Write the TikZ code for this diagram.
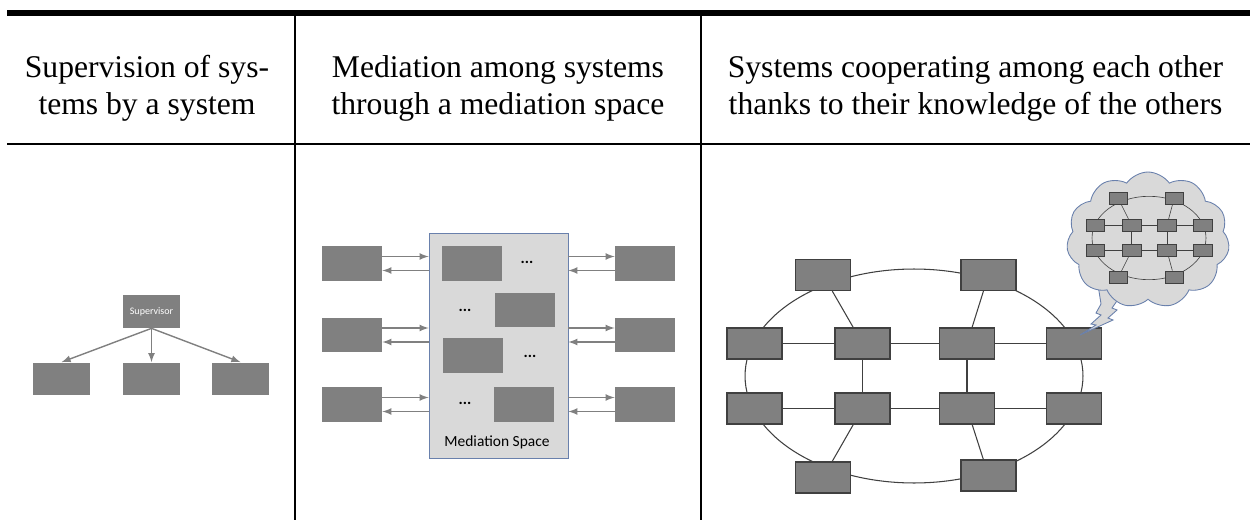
\documentclass[tikz,border=0pt]{standalone}
\usepackage{fontspec}
\setmainfont{Liberation Serif}
\newfontfamily\calibri{Carlito}
\usetikzlibrary{positioning,arrows,shapes}

\definecolor{boxgray}{RGB}{128,128,128}
\definecolor{spacegray}{RGB}{217,217,217}
\definecolor{edgeblue}{RGB}{105,128,172}
\definecolor{linegray}{RGB}{64,64,64}

\begin{document}
\begin{tikzpicture} [x=0.02cm, y=-0.02cm,
    header/.style={align=center, font=\fontsize{18}{21}\selectfont},
    sysbox/.style={fill=boxgray, minimum width=1.14cm, minimum height=0.66cm, inner sep=0pt},
    medbox/.style={fill=boxgray, minimum width=1.2cm, minimum height=0.7cm, inner sep=0pt},
    netbox/.style={draw=linegray, line width=0.7pt, fill=boxgray, minimum width=1.1cm, minimum height=0.62cm, inner sep=0pt},
    minibox/.style={draw=linegray, line width=0.4pt, fill=boxgray, minimum width=0.37cm, minimum height=0.24cm, inner sep=0pt},
    flow/.style={->, >=latex, draw=boxgray, line width=0.8pt},
    link/.style={draw=linegray, line width=0.6pt},
    minilink/.style={draw=linegray, line width=0.35pt},
    dots/.style={font=\calibri\bfseries\fontsize{9}{10}\selectfont}]
    \useasboundingbox (0,0) rectangle (1250,520);

    % table rules
    \draw[line width=3.4pt] (7,13) -- (1250,13);
    \draw[line width=1.5pt] (7,144) -- (1250,144);
    \draw[line width=1.3pt] (295,16) -- (295,520);
    \draw[line width=1.3pt] (701,16) -- (701,520);

    \node[header] (headsup) at (147,88) {Supervision of sys-\\tems by a system};
    \node[header] (headmed) at (498,88) {Mediation among systems\\through a mediation space};
    \node[header] (headcoop) at (975.5,88) {Systems cooperating among each other\\thanks to their knowledge of the others};

    % supervision
    \node[sysbox,text=white,font=\calibri\fontsize{5.7}{6}\selectfont] (sup) at (151.5,311.5) {Supervisor};
    \node[sysbox] (sysa) at (61.5,379) {};
    \node[sysbox] (sysb) at (151.5,379) {};
    \node[sysbox] (sysc) at (240.5,379) {};

    \path (sup.south) edge [flow] (sysa.north);
    \path (sup.south) edge [flow] (sysb.north);
    \path (sup.south) edge [flow] (sysc.north);

    % mediation
    \node[draw=edgeblue,fill=spacegray,minimum width=2.78cm,minimum height=4.5cm,inner sep=0pt] (space) at (498.5,345.5) {};
    \node[font=\calibri\fontsize{8.8}{10}\selectfont] (spacelabel) at (497,442) {Mediation Space};
    \node[medbox] (ina) at (471.5,263.5) {};
    \node[medbox] (inb) at (525,310) {};
    \node[medbox] (inc) at (473,355.5) {};
    \node[medbox] (ind) at (524,404.5) {};
    \node[dots] (dota) at (527,262) {...};
    \node[dots] (dotb) at (465,310) {...};
    \node[dots] (dotc) at (530,356) {...};
    \node[dots] (dotd) at (465,403) {...};

    \node[medbox] (lefta) at (352,263.5) {};
    \node[medbox] (leftb) at (352,335) {};
    \node[medbox] (leftc) at (352,404.5) {};
    \node[medbox] (righta) at (645,263.5) {};
    \node[medbox] (rightb) at (645,335) {};
    \node[medbox] (rightc) at (645,404.5) {};

    \path ([yshift=0.14cm]lefta.east) edge [flow] ([yshift=0.14cm]lefta.east -| space.west);
    \path ([yshift=-0.14cm]lefta.east -| space.west) edge [flow] ([yshift=-0.14cm]lefta.east);
    \path ([yshift=0.14cm]leftb.east) edge [flow] ([yshift=0.14cm]leftb.east -| space.west);
    \path ([yshift=-0.14cm]leftb.east -| space.west) edge [flow] ([yshift=-0.14cm]leftb.east);
    \path ([yshift=0.14cm]leftc.east) edge [flow] ([yshift=0.14cm]leftc.east -| space.west);
    \path ([yshift=-0.14cm]leftc.east -| space.west) edge [flow] ([yshift=-0.14cm]leftc.east);
    \path ([yshift=0.14cm]righta.west -| space.east) edge [flow] ([yshift=0.14cm]righta.west);
    \path ([yshift=-0.14cm]righta.west) edge [flow] ([yshift=-0.14cm]righta.west -| space.east);
    \path ([yshift=0.14cm]rightb.west -| space.east) edge [flow] ([yshift=0.14cm]rightb.west);
    \path ([yshift=-0.14cm]rightb.west) edge [flow] ([yshift=-0.14cm]rightb.west -| space.east);
    \path ([yshift=0.14cm]rightc.west -| space.east) edge [flow] ([yshift=0.14cm]rightc.west);
    \path ([yshift=-0.14cm]rightc.west) edge [flow] ([yshift=-0.14cm]rightc.west -| space.east);

    % cooperation
    \draw[link] (914,376) ellipse [x radius=3.38cm, y radius=2.14cm];
    \node[netbox] (ta) at (823,275) {};
    \node[netbox] (tb) at (988.5,275) {};
    \node[netbox] (ua) at (754.5,343.5) {};
    \node[netbox] (ub) at (862.5,343.5) {};
    \node[netbox] (uc) at (967,343.5) {};
    \node[netbox] (ud) at (1074,343.5) {};
    \node[netbox] (la) at (754.5,408.5) {};
    \node[netbox] (lb) at (862.5,408.5) {};
    \node[netbox] (lc) at (967,408.5) {};
    \node[netbox] (ld) at (1074,408.5) {};
    \node[netbox] (ba) at (823,477.5) {};
    \node[netbox] (bb) at (988.5,475.5) {};

    \path (ta) edge [link] (ub);
    \path (tb) edge [link] (uc);
    \path (ua) edge [link] (ub);
    \path (ub) edge [link] (uc);
    \path (uc) edge [link] (ud);
    \path (la) edge [link] (lb);
    \path (lb) edge [link] (lc);
    \path (lc) edge [link] (ld);
    \path (ub) edge [link] (lb);
    \path (uc) edge [link] (lc);
    \path (lb) edge [link] (ba);
    \path (lc) edge [link] (bb);

    % thought cloud
    \draw[edgeblue,fill=spacegray,line width=0.5pt] (1098,285) -- (1101,304) -- (1096,313) -- (1101,315) -- (1091,324) -- (1096,325) -- (1080,335) -- (1113,320) -- (1108,318) -- (1117,310) -- (1112,308) -- (1128,285) -- cycle;
    \node[cloud,cloud puffs=11,cloud puff arc=110,aspect=1.2,draw=edgeblue,fill=spacegray,line width=0.5pt,minimum width=3.26cm,minimum height=2.72cm,inner sep=0pt] (thought) at (1148,240) {};

    \draw[minilink] (1149,238) ellipse [x radius=1.14cm, y radius=0.834cm];
    \node[minibox] (mta) at (1118.3,198.6) {};
    \node[minibox] (mtb) at (1174.1,198.6) {};
    \node[minibox] (mua) at (1095.2,225.3) {};
    \node[minibox] (mub) at (1131.6,225.3) {};
    \node[minibox] (muc) at (1166.9,225.3) {};
    \node[minibox] (mud) at (1202.9,225.3) {};
    \node[minibox] (mla) at (1095.2,250.7) {};
    \node[minibox] (mlb) at (1131.6,250.7) {};
    \node[minibox] (mlc) at (1166.9,250.7) {};
    \node[minibox] (mld) at (1202.9,250.7) {};
    \node[minibox] (mba) at (1118.3,277.4) {};
    \node[minibox] (mbb) at (1174.1,277) {};

    \path (mta) edge [minilink] (mub);
    \path (mtb) edge [minilink] (muc);
    \path (mua) edge [minilink] (mub);
    \path (mub) edge [minilink] (muc);
    \path (muc) edge [minilink] (mud);
    \path (mla) edge [minilink] (mlb);
    \path (mlb) edge [minilink] (mlc);
    \path (mlc) edge [minilink] (mld);
    \path (mub) edge [minilink] (mlb);
    \path (muc) edge [minilink] (mlc);
    \path (mlb) edge [minilink] (mba);
    \path (mlc) edge [minilink] (mbb);
\end{tikzpicture}
\end{document}
